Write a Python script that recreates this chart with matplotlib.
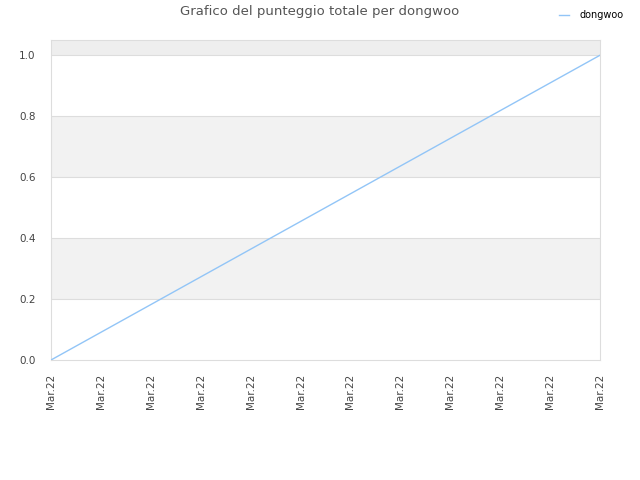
import matplotlib
matplotlib.use("Agg")
import matplotlib.pyplot as plt

# dati
x_labels = ["Mar.22"] * 12
x_vals = [0, 11]
punteggio = [0.0, 1.0]
y_ticks = [0.0, 0.2, 0.4, 0.6, 0.8, 1.0]

fig = plt.figure(figsize=(6.4, 4.8), dpi=100)
ax = fig.add_axes([51 / 640, 120 / 480, 549 / 640, 320 / 480])

# bande alternate di sfondo
for lo, hi in [(0.2, 0.4), (0.6, 0.8)]:
    ax.axhspan(lo, hi, color="#f2f2f2", zorder=0, lw=0)
ax.axhspan(1.0, 1.05, color="#eeeeee", zorder=0, lw=0)

for y in y_ticks[1:]:
    ax.axhline(y, color="#dddddd", lw=0.8, zorder=1)

line, = ax.plot(x_vals, punteggio, color="#92c5f7", lw=1.0, label="dongwoo", zorder=3)

ax.set_xlim(0, 11)
ax.set_ylim(0, 1.05)
ax.set_xticks(range(len(x_labels)))
ax.set_xticklabels(x_labels, rotation=90, fontsize=7.5, color="#444444")
ax.set_yticks(y_ticks)
ax.set_yticklabels([f"{v:.1f}" for v in y_ticks], fontsize=7.5, color="#444444")
ax.tick_params(axis="y", length=0, pad=11)
ax.tick_params(axis="x", length=0, pad=10)

for s in ax.spines.values():
    s.set_color("#dddddd")
    s.set_linewidth(0.8)

fig.text(0.5, 1 - 12 / 480, "Grafico del punteggio totale per dongwoo",
         ha="center", va="center", fontsize=9.5, color="#555555")
fig.legend([line], ["dongwoo"], loc="center left",
           bbox_to_anchor=(555 / 640, 1 - 15 / 480), frameon=False,
           fontsize=7, handlelength=1.0, handletextpad=1.1, borderaxespad=0)

fig.savefig("out.png", dpi=100)
